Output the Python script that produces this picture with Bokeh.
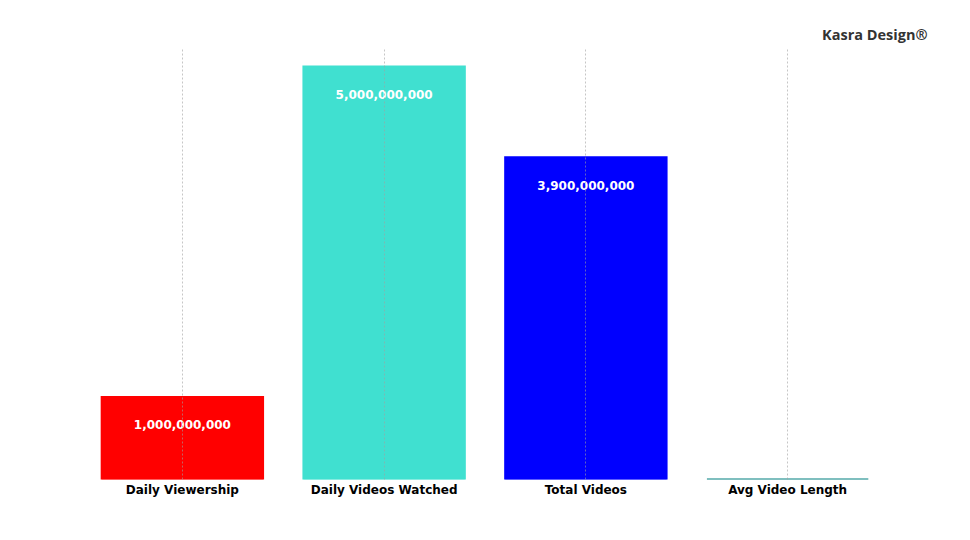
from bokeh.plotting import figure
from bokeh.models import ColumnDataSource, Range1d
from bokeh.core.properties import value
from bokeh.embed import file_html
from bokeh.resources import INLINE

categories = ["Daily Viewership", "Daily Videos Watched", "Total Videos", "Avg Video Length"]
values = [1000000000, 5000000000, 3900000000, 12]
colors = ["#FF0000", "#40E0D0", "#0000FF", "#008080"]
brand = "Kasra Design®"

src = ColumnDataSource(dict(cat=categories, val=values, color=colors))

vmax = max(values)
p = figure(x_range=categories, y_range=Range1d(0, vmax * 1.046),
           width=962, height=532, output_backend="svg", toolbar_location=None,
           min_border_left=81, min_border_right=74, min_border_top=47, min_border_bottom=53,
           title=brand)

p.vbar(x="cat", top="val", width=0.8, color="color", line_color="color", line_width=2,
       line_join="miter", source=src)

lab_idx = [i for i, v in enumerate(values) if v > 0.05 * vmax]
lab_src = ColumnDataSource(dict(cat=[categories[i] for i in lab_idx],
                                val=[values[i] for i in lab_idx],
                                txt=["{:,}".format(values[i]) for i in lab_idx]))
p.text(x="cat", y="val", text="txt", source=lab_src, y_offset=28,
       text_align="center", text_baseline="middle", text_color="white",
       text_font=value("DejaVu Sans"), text_font_style="bold", text_font_size="12px")

p.title.align = "right"
p.title.offset = -39
p.title.text_font = "Open Sans"
p.title.text_font_style = "bold"
p.title.text_font_size = "14.5px"
p.title.text_color = "#333333"
p.title.standoff = 7

p.outline_line_color = None
p.yaxis.visible = False
p.ygrid.visible = False
p.xgrid.grid_line_color = "#a0a0a0"
p.xgrid.grid_line_alpha = 0.6
p.xgrid.grid_line_dash = "2 2"
p.xgrid.grid_line_width = 1
p.xgrid.level = "annotation"

p.xaxis.axis_line_color = None
p.xaxis.major_tick_line_color = None
p.xaxis.minor_tick_line_color = None
p.xaxis.major_tick_out = 0
p.xaxis.major_tick_in = 0
p.xaxis.major_label_standoff = 3
p.xaxis.major_label_text_font = "DejaVu Sans"
p.xaxis.major_label_text_font_style = "bold"
p.xaxis.major_label_text_font_size = "12px"
p.xaxis.major_label_text_color = "black"

open("out.html", "w").write(file_html(p, INLINE))
